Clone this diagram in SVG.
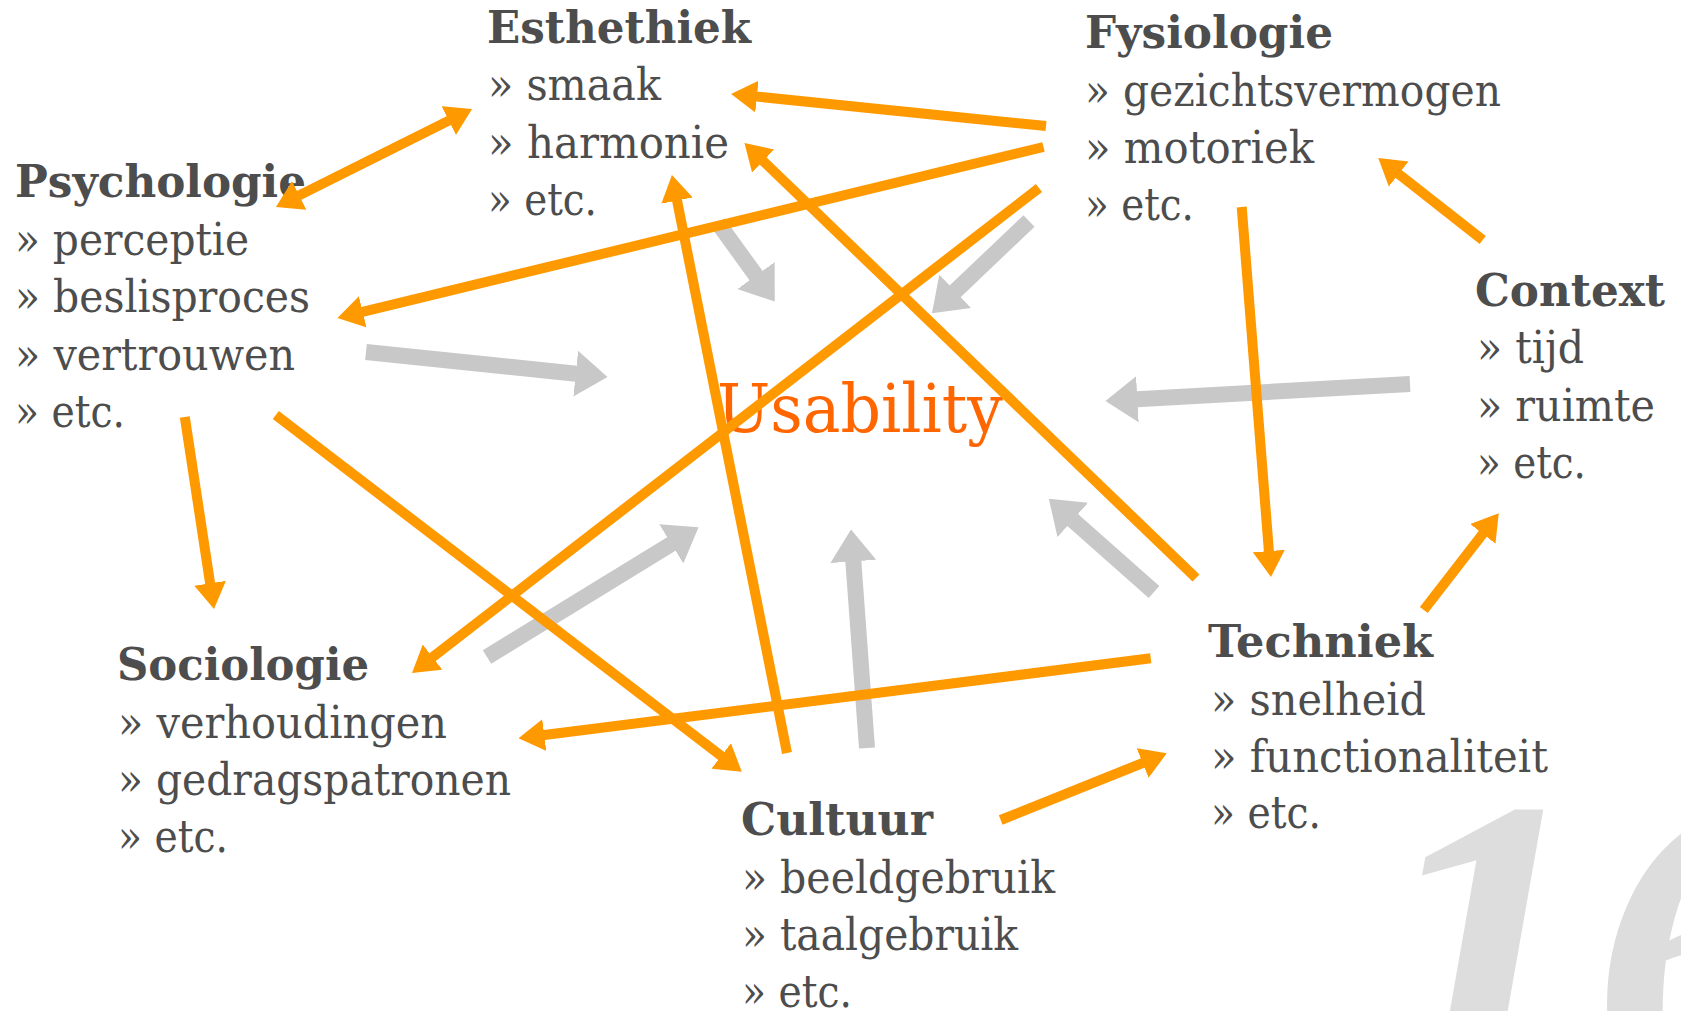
<svg xmlns="http://www.w3.org/2000/svg" width="1681" height="1011" viewBox="0 0 1681 1011">
<style>
.t{font-family:"DejaVu Serif","Liberation Serif",serif;font-size:44px;fill:#4D4D4D}
.b{font-weight:bold}
.o{stroke:#FF9900;stroke-width:10;fill:none;marker-end:url(#oh)}
.g{stroke:#C8C8C8;stroke-width:16;fill:none;marker-end:url(#gh)}
</style>
<defs>
<marker id="oh" markerUnits="userSpaceOnUse" markerWidth="26" markerHeight="32" viewBox="0 0 26 32" refX="14" refY="16" orient="auto-start-reverse"><path d="M0,0 L26,16 L0,32 z" fill="#FF9900"/></marker>
<marker id="gh" markerUnits="userSpaceOnUse" markerWidth="32" markerHeight="46" viewBox="0 0 32 46" refX="0.5" refY="23" orient="auto"><path d="M0,0 L32,23 L0,46 z" fill="#C8C8C8"/></marker>
</defs>
<rect width="1681" height="1011" fill="#FFFFFF"/>
<text x="1372" y="1100" font-family="'Liberation Serif',serif" font-style="italic" font-weight="bold" font-size="440" fill="#DDDDDD">16</text>

<g id="esthethiek">
<text class="t b" x="487" y="43" textLength="264" lengthAdjust="spacingAndGlyphs">Esthethiek</text>
<text class="t" x="488" y="100" textLength="173" lengthAdjust="spacingAndGlyphs">» smaak</text>
<text class="t" x="488" y="158" textLength="241" lengthAdjust="spacingAndGlyphs">» harmonie</text>
<text class="t" x="488" y="215" textLength="109" lengthAdjust="spacingAndGlyphs">» etc.</text>
</g>
<g id="fysiologie">
<text class="t b" x="1085" y="48" textLength="248" lengthAdjust="spacingAndGlyphs">Fysiologie</text>
<text class="t" x="1085" y="106" textLength="416" lengthAdjust="spacingAndGlyphs">» gezichtsvermogen</text>
<text class="t" x="1085" y="163" textLength="229" lengthAdjust="spacingAndGlyphs">» motoriek</text>
<text class="t" x="1085" y="220" textLength="109" lengthAdjust="spacingAndGlyphs">» etc.</text>
</g>
<g id="psychologie">
<text class="t b" x="15" y="197" textLength="291" lengthAdjust="spacingAndGlyphs">Psychologie</text>
<text class="t" x="15" y="255" textLength="234" lengthAdjust="spacingAndGlyphs">» perceptie</text>
<text class="t" x="15" y="312" textLength="295" lengthAdjust="spacingAndGlyphs">» beslisproces</text>
<text class="t" x="15" y="370" textLength="280" lengthAdjust="spacingAndGlyphs">» vertrouwen</text>
<text class="t" x="15" y="427" textLength="110" lengthAdjust="spacingAndGlyphs">» etc.</text>
</g>
<g id="context">
<text class="t b" x="1475" y="306" textLength="190" lengthAdjust="spacingAndGlyphs">Context</text>
<text class="t" x="1477" y="363" textLength="107" lengthAdjust="spacingAndGlyphs">» tijd</text>
<text class="t" x="1477" y="421" textLength="178" lengthAdjust="spacingAndGlyphs">» ruimte</text>
<text class="t" x="1477" y="478" textLength="109" lengthAdjust="spacingAndGlyphs">» etc.</text>
</g>
<g id="sociologie">
<text class="t b" x="117" y="680" textLength="252" lengthAdjust="spacingAndGlyphs">Sociologie</text>
<text class="t" x="118" y="738" textLength="329" lengthAdjust="spacingAndGlyphs">» verhoudingen</text>
<text class="t" x="118" y="795" textLength="393" lengthAdjust="spacingAndGlyphs">» gedragspatronen</text>
<text class="t" x="118" y="852" textLength="110" lengthAdjust="spacingAndGlyphs">» etc.</text>
</g>
<g id="cultuur">
<text class="t b" x="741" y="835" textLength="192" lengthAdjust="spacingAndGlyphs">Cultuur</text>
<text class="t" x="742" y="893" textLength="313" lengthAdjust="spacingAndGlyphs">» beeldgebruik</text>
<text class="t" x="742" y="950" textLength="276" lengthAdjust="spacingAndGlyphs">» taalgebruik</text>
<text class="t" x="742" y="1007" textLength="110" lengthAdjust="spacingAndGlyphs">» etc.</text>
</g>
<g id="techniek">
<text class="t b" x="1208" y="657" textLength="225" lengthAdjust="spacingAndGlyphs">Techniek</text>
<text class="t" x="1211" y="715" textLength="215" lengthAdjust="spacingAndGlyphs">» snelheid</text>
<text class="t" x="1211" y="772" textLength="337" lengthAdjust="spacingAndGlyphs">» functionaliteit</text>
<text class="t" x="1211" y="828" textLength="110" lengthAdjust="spacingAndGlyphs">» etc.</text>
</g>
<g id="usability">
<text x="717" y="432" font-family="'DejaVu Serif','Liberation Serif',serif" font-size="68" fill="#FF6600" textLength="286" lengthAdjust="spacingAndGlyphs">Usability</text>
</g>

<g id="connectors">
<line class="g" x1="718" y1="223" x2="756.3" y2="276"/>
<line class="g" x1="1029" y1="221" x2="954.8" y2="291.6"/>
<line class="g" x1="366" y1="352" x2="576.2" y2="373.7"/>
<line class="g" x1="1410" y1="384" x2="1136.9" y2="399.2"/>
<line class="g" x1="1154" y1="592" x2="1072.4" y2="519.7"/>
<line class="g" x1="867" y1="748" x2="853.3" y2="560.9"/>
<line class="g" x1="487" y1="657" x2="671.7" y2="543.7"/>

<line class="o" x1="286.7" y1="201.6" x2="461.3" y2="114.4" style="marker-start:url(#oh)"/>
<line class="o" x1="1046" y1="126" x2="743" y2="95.2"/>
<line class="o" x1="1043.5" y1="147" x2="349.1" y2="315.2"/>
<line class="o" x1="1039" y1="188" x2="421.5" y2="665.7"/>
<line class="o" x1="787" y1="753" x2="674.3" y2="186.8"/>
<line class="o" x1="1196" y1="578" x2="753.1" y2="151.3"/>
<line class="o" x1="1241.7" y1="207" x2="1270" y2="565"/>
<line class="o" x1="1482.7" y1="240" x2="1387.7" y2="165.4"/>
<line class="o" x1="184.8" y1="417" x2="212.2" y2="597.1"/>
<line class="o" x1="275.8" y1="415" x2="732.3" y2="764.4"/>
<line class="o" x1="1150.7" y1="658.3" x2="530.4" y2="736.8"/>
<line class="o" x1="1000.7" y1="820" x2="1155.6" y2="757.8"/>
<line class="o" x1="1423.8" y1="610" x2="1491.4" y2="522.8"/>
</g>
</svg>
